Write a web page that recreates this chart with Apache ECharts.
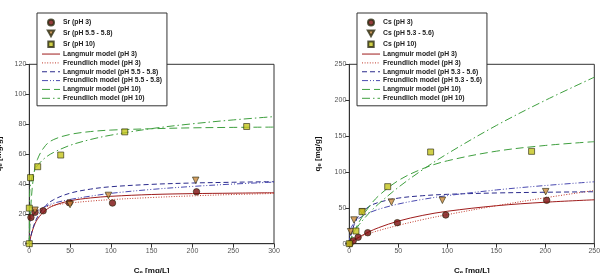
<!DOCTYPE html>
<html><head><meta charset="utf-8">
<script src="https://cdn.jsdelivr.net/npm/echarts@6/dist/echarts.min.js"></script>
<style>html,body{margin:0;padding:0;background:#fff}#c{width:600px;height:273px}</style>
</head><body><div id="c"></div>
<script>
// ---- Sr (left) measured data ----
const srPH3 = [[2,17.6],[7,21],[17,22],[49,27.4],[102,27.2],[205,34.7]];
const srPH55 = [[7,22.4],[50,26.2],[97,32.3],[204,42.4]];
const srPH10 = [[0,0],[0,23.8],[1.5,44.2],[10.3,51.5],[38.5,59.3],[117,74.8],[266.5,78.4]];
// ---- Sr model curves ----
const srCurveC = [0,0.5,1,2,5,10,20,30,50,75,100,150,200,250,300];
const srLangPH3 = [0,1.5,2.8,5.2,10.6,16.4,22.4,25.5,28.7,30.6,31.7,32.9,33.5,33.8,34.1];
const srFreuPH3 = [0,15.6,17.0,18.5,20.3,22.4,24.6,25.8,27.2,28.5,29.5,30.9,32.0,32.9,33.6];
const srLangPH55 = [0,1.5,2.9,5.3,11.3,17.9,25.4,29.5,33.8,36.5,38.1,39.7,40.6,41.1,41.5];
const srFreuPH55 = [0,12.7,14.4,16.4,19.3,22.0,25.0,27.1,29.6,31.8,33.7,36.3,38.3,39.9,41.2];
const srLangPH10 = [0,8.8,15.8,26.3,43.9,56.4,65.8,69.7,73.1,75.0,76.0,76.9,77.5,77.8,78.0];
const srFreuPH10 = [0,34.1,37.6,41.5,47.3,52.3,57.7,61.1,65.8,69.7,72.6,77.0,80.2,82.8,85.0];
// ---- Cs (right) measured data ----
const csPH3 = [[0.7,0],[4,4],[9,9],[18.8,15.3],[49,29.3],[98.4,40],[201.4,60.5]];
const csPH53 = [[1.4,16.7],[4.8,33],[13.3,44.6],[43,58],[95,60.5],[200.4,72.5]];
const csPH10 = [[0,0],[6.8,17.7],[13,44.6],[39.2,79.5],[83,127.8],[186,128.7]];
// ---- Cs model curves ----
const csCurveC = [0,1,2,5,10,20,30,50,75,100,150,200,250];
const csLangPH3 = [0,1.0,2.0,4.9,9.2,16.5,22.4,31.5,39.5,45.2,52.9,57.8,61.2];
const csFreuPH3 = [0,1.9,3.1,5.6,8.9,14.0,18.3,25.6,33.6,40.5,52.9,64.0,74.2];
const csLangPH53 = [0,7.4,13.5,26.6,39.3,51.6,57.6,63.5,66.9,68.8,70.7,71.7,72.4];
const csFreuPH53 = [0,18.7,22.7,29.2,35.4,42.9,48.0,55.3,61.8,67.0,74.9,81.1,86.3];
const csLangPH10 = [0,3.6,7.1,16.6,30.3,51.3,66.8,88.0,104.6,115.5,128.9,136.9,142.2];
const csFreuPH10 = [0,5.6,9.0,16.6,26.5,42.3,55.6,78.5,103.2,125.3,164.7,199.8,232.0];
// ---- axes ----
const srXTicks = {min:0,max:300,interval:50};
const srYTicks = {min:0,max:120,interval:20};
const csXTicks = {min:0,max:250,interval:50};
const csYTicks = {min:0,max:250,interval:50};

const FONT = '"Liberation Sans", Arial, sans-serif';
const RED='#9e1c1c', RED2='#c0392b', BLUE='#2b2b8c', BLUE2='#4a4ab0', GREEN='#3f9f3f';
const zip = (xs, ys) => xs.map((x,i)=>[x, ys[i]]);

function lineSeries(name, idx, xs, ys, color, type){
  return {name, type:'line', xAxisIndex:idx, yAxisIndex:idx, data:zip(xs,ys),
    showSymbol:false, symbol:'none', smooth:0.35, z:2,
    lineStyle:{color, width:1, type}, itemStyle:{color}};
}
const STY = {
  circle:{color:'#7a0c0c', icon:'path://M0,0M18,7M6,3.5a3,3 0 1,0 6,0a3,3 0 1,0 -6,0z'},
  tri:{color:'#cc8a3c', icon:'path://M0,0M18,7M5.8,0.6L12.2,0.6L9,6.4z'},
  sq:{color:'#c4c41c', icon:'path://M0,0M18,7M6.3,0.8h5.4v5.4h-5.4z'}
};
function scatterSeries(name, idx, data, kind){
  const shape = {circle:['circle',6.5,0], tri:['triangle',6.5,180], sq:['rect',6,0]}[kind];
  return {name, type:'scatter', xAxisIndex:idx, yAxisIndex:idx, data, z:5,
    symbol:shape[0], symbolSize:shape[1], symbolRotate:shape[2],
    itemStyle:{color:STY[kind].color, borderColor:'#2a2a10', borderWidth:0.8}};
}
const nameStyle = {fontFamily:FONT, fontSize:8, fontWeight:'bold', color:'#111',
  rich:{s:{fontFamily:FONT, fontSize:6, fontWeight:'bold', color:'#111', padding:[4,0,0,0]}}};
function xAxis(idx, t){
  return {gridIndex:idx, type:'value', min:t.min, max:t.max, interval:t.interval,
    name:'C{s|e} [mg/L]', nameLocation:'middle', nameGap:22, nameTextStyle:nameStyle,
    axisLine:{onZero:false, lineStyle:{color:'#333', width:1}},
    axisTick:{show:true, inside:false, length:4, lineStyle:{color:'#333'}},
    axisLabel:{fontFamily:FONT, fontSize:7, color:'#555', margin:4},
    splitLine:{show:false}};
}
function yAxis(idx, t, gap){
  return {gridIndex:idx, type:'value', min:t.min, max:t.max, interval:t.interval,
    name:'q{s|e} [mg/g]', nameLocation:'middle', nameGap:gap, nameRotate:90, nameTextStyle:nameStyle,
    axisLine:{show:true, onZero:false, lineStyle:{color:'#333', width:1}},
    axisTick:{show:true, inside:false, length:4, lineStyle:{color:'#333'}},
    axisLabel:{fontFamily:FONT, fontSize:7, color:'#555', margin:3},
    splitLine:{show:false}};
}
function legendData(names){
  return names.map((n,i)=> i<3 ? {name:n, icon:STY[['circle','tri','sq'][i]].icon}
                                : {name:n, itemStyle:{opacity:0}});
}
function legend(left, names){
  return {left, top:13, orient:'vertical', data:legendData(names),
    backgroundColor:'#fff', borderColor:'#333', borderWidth:1, borderRadius:0,
    padding:[5,5,4,4], itemGap:1.85, itemWidth:18, itemHeight:7,
    selectedMode:false, lineStyle:{width:1},
    textStyle:{fontFamily:FONT, fontSize:6.8, fontWeight:'bold', color:'#222', padding:[0,0,0,-2]}};
}

const srNames = ['Sr (pH 3)','Sr (pH 5.5 - 5.8)','Sr (pH 10)','Langmuir model (pH 3)','Freundlich model (pH 3)',
  'Langmuir model (pH 5.5 - 5.8)','Freundlich model (pH 5.5 - 5.8)','Langmuir model (pH 10)','Freundlich model (pH 10)'];
const csNames = ['Cs (pH 3)','Cs (pH 5.3 - 5.6)','Cs (pH 10)','Langmuir model (pH 3)','Freundlich model (pH 3)',
  'Langmuir model (pH 5.3 - 5.6)','Freundlich model (pH 5.3 - 5.6)','Langmuir model (pH 10)','Freundlich model (pH 10)'];

const DOT=[1,1.6], DASH=[5,3], DDD=[6,2,1,2,1,2], LDASH=[8,4], DASHDOT=[8,3,1.5,3];

const chart = echarts.init(document.getElementById('c'), null, {renderer:'canvas'});
chart.setOption({
  animation:false,
  backgroundColor:'#fff',
  grid:[
    {left:29.3, top:64.3, width:244.7, height:179.4, show:true, borderColor:'#333', borderWidth:1,
     backgroundColor:'transparent', containLabel:false, outerBoundsMode:'none'},
    {left:349.3, top:64.3, width:245, height:179.4, show:true, borderColor:'#333', borderWidth:1,
     backgroundColor:'transparent', containLabel:false, outerBoundsMode:'none'}
  ],
  xAxis:[xAxis(0, srXTicks), xAxis(1, csXTicks)],
  yAxis:[yAxis(0, srYTicks, 26), yAxis(1, csYTicks, 27)],
  legend:[legend(37, srNames), legend(357, csNames)],
  series:[
    lineSeries('Langmuir model (pH 3)',0,srCurveC,srLangPH3,RED,'solid'),
    lineSeries('Freundlich model (pH 3)',0,srCurveC,srFreuPH3,RED2,DOT),
    lineSeries('Langmuir model (pH 5.5 - 5.8)',0,srCurveC,srLangPH55,BLUE,DASH),
    lineSeries('Freundlich model (pH 5.5 - 5.8)',0,srCurveC,srFreuPH55,BLUE2,DDD),
    lineSeries('Langmuir model (pH 10)',0,srCurveC,srLangPH10,GREEN,LDASH),
    lineSeries('Freundlich model (pH 10)',0,srCurveC,srFreuPH10,GREEN,DASHDOT),
    scatterSeries('Sr (pH 3)',0,srPH3,'circle'),
    scatterSeries('Sr (pH 5.5 - 5.8)',0,srPH55,'tri'),
    scatterSeries('Sr (pH 10)',0,srPH10,'sq'),
    lineSeries('Langmuir model (pH 3)',1,csCurveC,csLangPH3,RED,'solid'),
    lineSeries('Freundlich model (pH 3)',1,csCurveC,csFreuPH3,RED2,DOT),
    lineSeries('Langmuir model (pH 5.3 - 5.6)',1,csCurveC,csLangPH53,BLUE,DASH),
    lineSeries('Freundlich model (pH 5.3 - 5.6)',1,csCurveC,csFreuPH53,BLUE2,DDD),
    lineSeries('Langmuir model (pH 10)',1,csCurveC,csLangPH10,GREEN,LDASH),
    lineSeries('Freundlich model (pH 10)',1,csCurveC,csFreuPH10,GREEN,DASHDOT),
    scatterSeries('Cs (pH 3)',1,csPH3,'circle'),
    scatterSeries('Cs (pH 5.3 - 5.6)',1,csPH53,'tri'),
    scatterSeries('Cs (pH 10)',1,csPH10,'sq')
  ]
});
</script></body></html>
